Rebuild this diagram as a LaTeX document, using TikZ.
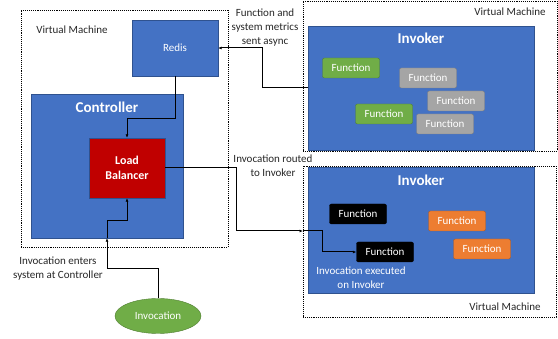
\documentclass[tikz,border=0pt]{standalone}
\usepackage{fontspec}
\setmainfont{Carlito}
\usetikzlibrary{shapes.geometric,arrows.meta}
\definecolor{boxblue}{HTML}{4472C4}
\definecolor{edgeblue}{HTML}{2F528F}
\definecolor{lbred}{HTML}{C00000}
\definecolor{fngreen}{HTML}{70AD47}
\definecolor{edgegreen}{HTML}{507E32}
\definecolor{fngray}{HTML}{A5A5A5}
\definecolor{edgegray}{HTML}{7F7F7F}
\definecolor{fnorange}{HTML}{ED7D31}
\definecolor{edgeorange}{HTML}{AE5A21}
\definecolor{labelgray}{HTML}{262626}
\tikzset{
  vm/.style={draw, densely dotted, line width=0.9pt, inner sep=0pt},
  bluebox/.style={draw=edgeblue, fill=boxblue, inner sep=0pt},
  fn/.style={draw, rounded corners=2pt, text=white, inner sep=0pt,
    minimum width=57, minimum height=20, font=\fontsize{11}{13}\selectfont},
  title/.style={text=white, font=\fontsize{15}{18}\selectfont\bfseries},
  note/.style={text=labelgray, align=center, font=\fontsize{11}{14}\selectfont},
  arr/.style={line width=1pt, -{Latex[length=3.5pt,width=3pt]}},
}
\begin{document}
\begin{tikzpicture}[x=1pt,y=-1pt]
  \useasboundingbox (0,0) rectangle (558,339);
  % left virtual machine
  \node[vm, minimum width=207, minimum height=237] (vmleft) at (124.5,128.5) {};
  \node[note] (vmlefttxt) at (72,30) {Virtual Machine};
  \node[bluebox, text=white, minimum width=86, minimum height=56, font=\fontsize{11}{13}\selectfont] (redis) at (175,48) {Redis};
  \node[bluebox, minimum width=152, minimum height=144] (ctrl) at (107,166) {};
  \node[title] (ctrltxt) at ([yshift=-13]ctrl.north) {Controller};
  \node[draw=edgeblue, fill=lbred, text=white, align=center, inner sep=0pt,
    minimum width=76, minimum height=60, font=\fontsize{12}{15}\selectfont\bfseries] (lb) at (127,168) {Load\\Balancer};
  \node[ellipse, draw=edgegreen, fill=fngreen, text=white, inner sep=0pt,
    minimum width=86, minimum height=35, font=\fontsize{11}{13}\selectfont] (invoc) at (158,316) {Invocation};
  % top invoker
  \node[vm, minimum width=254, minimum height=150] (vmtop) at (430,76) {};
  \node[note] (vmtoptxt) at (510,12) {Virtual Machine};
  \node[bluebox, minimum width=226, minimum height=124] (invtop) at (421,88) {};
  \node[title] (invtoptxt) at ([yshift=-12]invtop.north) {Invoker};
  \node[fn, draw=edgegreen, fill=fngreen] (fna1) at (351,68) {Function};
  \node[fn, draw=edgegray, fill=fngray] (fna2) at (428,78) {Function};
  \node[fn, draw=edgegray, fill=fngray] (fna3) at (456,101) {Function};
  \node[fn, draw=edgegreen, fill=fngreen] (fna4) at (384,114) {Function};
  \node[fn, draw=edgegray, fill=fngray] (fna5) at (445,124) {Function};
  % bottom invoker
  \node[vm, minimum width=253, minimum height=151] (vmbot) at (429.5,241.5) {};
  \node[note] (vmbottxt) at (505,307) {Virtual Machine};
  \node[bluebox, minimum width=226, minimum height=126] (invbot) at (421,230) {};
  \node[title] (invbottxt) at ([yshift=-13]invbot.north) {Invoker};
  \node[fn, fill=black] (fnb1) at (358,214) {Function};
  \node[fn, fill=black] (fnb2) at (385,252) {Function};
  \node[fn, draw=edgeorange, fill=fnorange] (fnb3) at (457,221) {Function};
  \node[fn, draw=edgeorange, fill=fnorange] (fnb4) at (482,249) {Function};
  \node[note, text=white] (exectxt) at (361,278) {Invocation executed\\on Invoker};
  % notes
  \node[note] (asynctxt) at (265,28) {Function and\\system metrics\\sent async};
  \node[note] (routetxt) at (273,166) {Invocation routed\\to Invoker};
  \node[note] (entertxt) at (58,269) {Invocation enters\\system at Controller};
  % connectors
  \coordinate (entry) at (303,231);
  \draw[arr] (redis.south) -- ++(0,42) -| (lb.north);
  \draw[arr] (invtop.west) -- ++(-45,0) |- (redis.east);
  \draw[arr] (invoc.north) -- ++(0,-30) -| (ctrl.south);
  \draw[arr] (ctrl.south) -- ++(0,-18) -| (lb.south);
  \draw[arr] (lb.east) -- ++(71,0) |- (entry);
  \draw[arr] (entry) -- ++(19,0) |- (fnb2.west);
\end{tikzpicture}
\end{document}
